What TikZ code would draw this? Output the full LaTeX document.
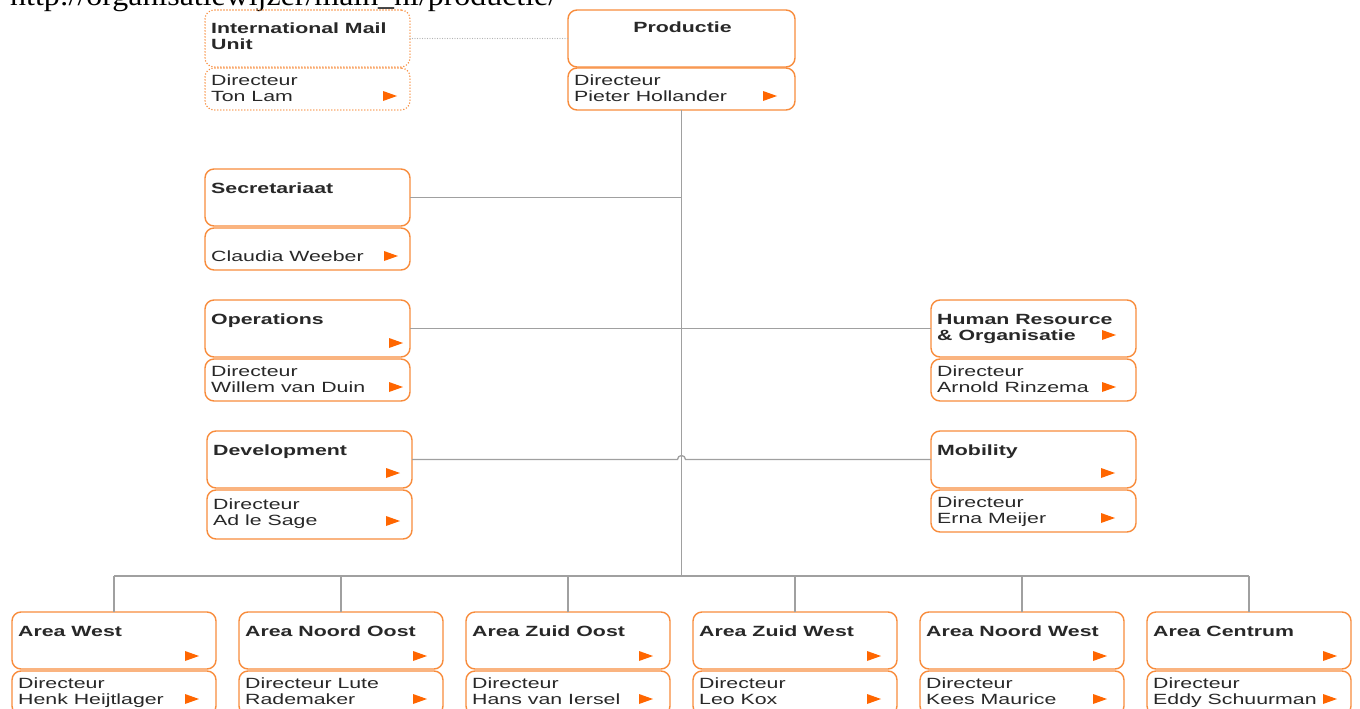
\documentclass[tikz,border=0pt]{standalone}
\usepackage{fontspec}
\setmainfont{Liberation Sans}[FakeStretch=1.44]
\newfontfamily\urlfont{Liberation Serif}[FakeStretch=1.1]
\definecolor{boxor}{RGB}{248,140,60}
\definecolor{arrc}{RGB}{255,102,0}
\definecolor{linec}{RGB}{160,160,160}
\definecolor{txt}{RGB}{40,40,40}
\tikzset{
  box/.style={draw=boxor, line width=1.4pt, rounded corners=9pt, anchor=north west, inner sep=0pt, outer sep=0pt},
  dotbox/.style={box, line cap=round, dash pattern=on 0pt off 3pt, line width=1.6pt},
  ttl/.style={anchor=base west, inner sep=0pt, font=\bfseries\fontsize{14.8}{17}\selectfont, text=txt},
  nrm/.style={anchor=base west, inner sep=0pt, font=\fontsize{14.8}{17}\selectfont, text=txt},
  conn/.style={draw=linec, line width=1.3pt},
  dotconn/.style={draw=linec!80, line width=1.2pt, line cap=round, dash pattern=on 0pt off 2.5pt}
}
\newcommand\ubox[6]{\node[#6, minimum width=#4pt, minimum height=#5pt] (#1) at (#2,#3) {};}
\newcommand\tl[6]{\node[#5] (#1) at ([shift={(#3,#4)}]#2.north west) {#6};}
\newcommand\tri[3]{\fill[arrc] ([shift={(#2-7,#3-5)}]#1.north east) -- ([shift={(#2+7,#3)}]#1.north east) -- ([shift={(#2-7,#3+5)}]#1.north east) -- cycle;}
\newcommand\area[6]{%
  \ubox{#1}{#2}{612}{204}{57}{box}
  \ubox{#1d}{#2}{671}{204}{44}{box}
  \tl{#1t}{#1}{6}{24}{ttl}{#3}
  \tri{#1}{#6}{44}
  \tl{#1d1}{#1d}{6}{17}{nrm}{#4}
  \tl{#1d2}{#1d}{6}{33}{nrm}{#5}
  \tri{#1d}{#6}{28}
}
\begin{document}
\begin{tikzpicture}[x=1pt,y=-1pt]
\useasboundingbox (0,0) rectangle (1360,709);
\clip (0,0) rectangle (1360,709);
\fill[white] (0,0) rectangle (1360,709);

% cut-off heading
\node[anchor=base west, inner sep=0pt, font=\urlfont\fontsize{29}{30}\selectfont] (url) at (10,6) {http://organisatiewijzer/main\_nl/productie/};

% International Mail Unit
\ubox{imu}{205}{10}{205}{57}{dotbox}
\ubox{imud}{205}{68}{205}{42}{dotbox}
\tl{imu1}{imu}{6}{24}{ttl}{International Mail}
\tl{imu2}{imu}{6}{40}{ttl}{Unit}
\tl{imud1}{imud}{6}{17}{nrm}{Directeur}
\tl{imud2}{imud}{6}{33}{nrm}{Ton Lam}
\tri{imud}{-20}{28}

% Productie
\ubox{prod}{568}{10}{227}{57}{box}
\ubox{prodd}{568}{68}{227}{42}{box}
\node[ttl, anchor=base] (prodt) at ([shift={(1,23)}]prod.north) {Productie};
\tl{prodd1}{prodd}{6}{17}{nrm}{Directeur}
\tl{prodd2}{prodd}{6}{33}{nrm}{Pieter Hollander}
\tri{prodd}{-25}{28}

% Secretariaat
\ubox{sec}{205}{169}{205}{57}{box}
\ubox{secd}{205}{228}{205}{42}{box}
\tl{sect}{sec}{6}{24}{ttl}{Secretariaat}
\tl{secd2}{secd}{6}{33}{nrm}{Claudia Weeber}
\tri{secd}{-19}{28}

% Operations
\ubox{ops}{205}{300}{205}{57}{box}
\ubox{opsd}{205}{359}{205}{42}{box}
\tl{opst}{ops}{6}{24}{ttl}{Operations}
\tri{ops}{-14}{43}
\tl{opsd1}{opsd}{6}{17}{nrm}{Directeur}
\tl{opsd2}{opsd}{6}{33}{nrm}{Willem van Duin}
\tri{opsd}{-14}{28}

% Development
\ubox{dev}{207}{431}{205}{57}{box}
\ubox{devd}{207}{490}{205}{49}{box}
\tl{devt}{dev}{6}{24}{ttl}{Development}
\tri{dev}{-19}{42}
\tl{devd1}{devd}{6}{19}{nrm}{Directeur}
\tl{devd2}{devd}{6}{35}{nrm}{Ad le Sage}
\tri{devd}{-19}{31}

% Human Resource
\ubox{hr}{931}{300}{205}{57}{box}
\ubox{hrd}{931}{359}{205}{42}{box}
\tl{hrt1}{hr}{6}{24}{ttl}{Human Resource}
\tl{hrt2}{hr}{6}{40}{ttl}{\& Organisatie}
\tri{hr}{-27}{35}
\tl{hrd1}{hrd}{6}{17}{nrm}{Directeur}
\tl{hrd2}{hrd}{6}{33}{nrm}{Arnold Rinzema}
\tri{hrd}{-27}{28}

% Mobility
\ubox{mob}{931}{431}{205}{57}{box}
\ubox{mobd}{931}{490}{205}{42}{box}
\tl{mobt}{mob}{6}{24}{ttl}{Mobility}
\tri{mob}{-28}{42}
\tl{mobd1}{mobd}{6}{17}{nrm}{Directeur}
\tl{mobd2}{mobd}{6}{33}{nrm}{Erna Meijer}
\tri{mobd}{-28}{28}

% Areas
\area{aw}{12}{Area West}{Directeur}{Henk Heijtlager}{-24}
\area{ano}{239}{Area Noord Oost}{Directeur Lute}{Rademaker}{-23}
\area{azo}{466}{Area Zuid Oost}{Directeur}{Hans van Iersel}{-24}
\area{azw}{693}{Area Zuid West}{Directeur}{Leo Kox}{-23}
\area{anw}{920}{Area Noord West}{Directeur}{Kees Maurice}{-24}
\area{ac}{1147}{Area Centrum}{Directeur}{Eddy Schuurman}{-21}

% connectors
\coordinate (bus) at (681.5,576);
\draw[dotconn] (imu.east) -- (prod.west);
\draw[conn] (prodd.south) -- (bus);
\draw[conn] (sec.east) -- (sec.east -| prodd.south);
\draw[conn] (ops.east) -- (hr.west);
\draw[conn] (dev.east) -- ([xshift=-4pt]dev.east -| prodd.south) arc[start angle=180, end angle=0, radius=4pt] -- (mob.west);
\draw[conn] (aw.north |- bus) -- (ac.north |- bus);
\foreach \a in {aw,ano,azo,azw,anw,ac} {\draw[conn] (\a.north) -- (\a.north |- bus);}
\end{tikzpicture}
\end{document}
